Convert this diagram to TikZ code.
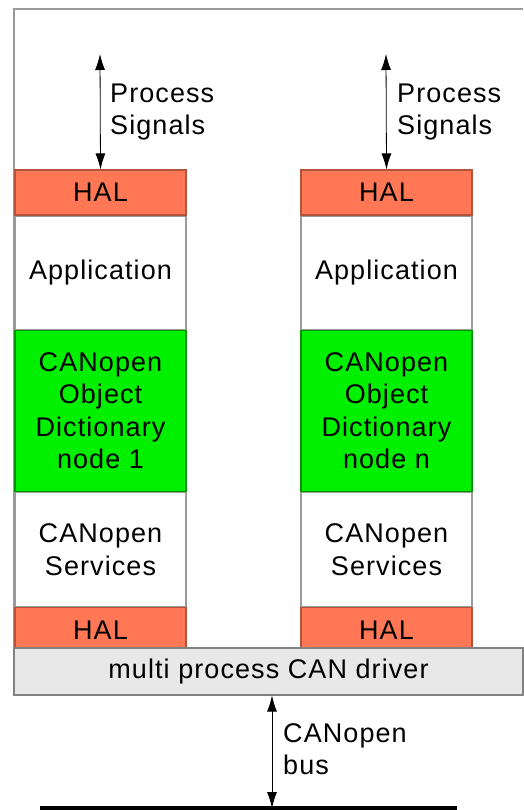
\documentclass[tikz,border=0pt]{standalone}
\usepackage{fontspec}
\setmainfont[LetterSpace=4]{Liberation Sans}
\usetikzlibrary{positioning,arrows.meta}

\definecolor{halred}{HTML}{FF7755}
\definecolor{odgreen}{HTML}{00F000}
\definecolor{drvgray}{HTML}{E8E8E8}
\definecolor{edgegray}{HTML}{9A9A9A}

\tikzset{
  layer/.style={draw=edgegray, line width=1.2pt, minimum width=171pt, inner sep=0pt,
    align=center, font=\fontsize{27}{32.5}\selectfont},
  halbox/.style={layer, fill=halred, draw=halred!70!black, minimum height=45pt},
  appbox/.style={layer, fill=white, minimum height=113pt},
  odbox/.style={layer, fill=odgreen, draw=odgreen!60!black, minimum height=161pt},
  srvbox/.style={layer, fill=white, minimum height=114pt},
  sig/.style={line width=0.8pt, {Latex[length=16pt,width=10pt]}-{Latex[length=16pt,width=10pt]}},
  lbl/.style={align=left, inner sep=0pt, font=\fontsize{27}{32}\selectfont}
}

\begin{document}
\begin{tikzpicture}[x=1pt, y=-1pt]
    \useasboundingbox (0, 0) rectangle (523, 810);
    % outer frame
    \draw[edgegray, line width=1.5pt] (14, 695) -- (14, 9) -- (523, 9);
    % left stack
    \node[halbox] (halA) at (100.5, 192.5) {HAL};
    \node[appbox, below=0pt of halA] (appA) {Application};
    \node[odbox, below=0pt of appA] (odA) {CANopen\\Object\\Dictionary\\node 1};
    \node[srvbox, below=0pt of odA] (srvA) {CANopen\\Services};
    \node[halbox, below=0pt of srvA] (lowA) {HAL};
    % right stack
    \node[halbox] (halB) at (386.5, 192.5) {HAL};
    \node[appbox, below=0pt of halB] (appB) {Application};
    \node[odbox, below=0pt of appB] (odB) {CANopen\\Object\\Dictionary\\node n};
    \node[srvbox, below=0pt of odB] (srvB) {CANopen\\Services};
    \node[halbox, below=0pt of srvB] (lowB) {HAL};
    % driver
    \node[layer, fill=drvgray, draw=gray, minimum width=509pt, minimum height=47pt]
        (drv) at (268.5, 671.5) {multi process CAN driver};
    % signals
    \coordinate (topA) at (100, 54);
    \coordinate (topB) at (386, 54);
    \draw[sig] (topA) -- (halA.north);
    \draw[sig] (topB) -- (halB.north);
    \node[lbl, anchor=west] (sigA) at (110, 112) {Process\\Signals};
    \node[lbl, anchor=west] (sigB) at (397, 112) {Process\\Signals};
    % bus
    \coordinate (busL) at (40, 808);
    \coordinate (busR) at (457, 808);
    \coordinate (busM) at (272, 808);
    \draw[line width=4pt] (busL) -- (busR);
    \draw[sig] (drv.south -| busM) -- (busM);
    \node[lbl, anchor=west] (busT) at (283, 749) {CANopen\\bus};
\end{tikzpicture}
\end{document}
